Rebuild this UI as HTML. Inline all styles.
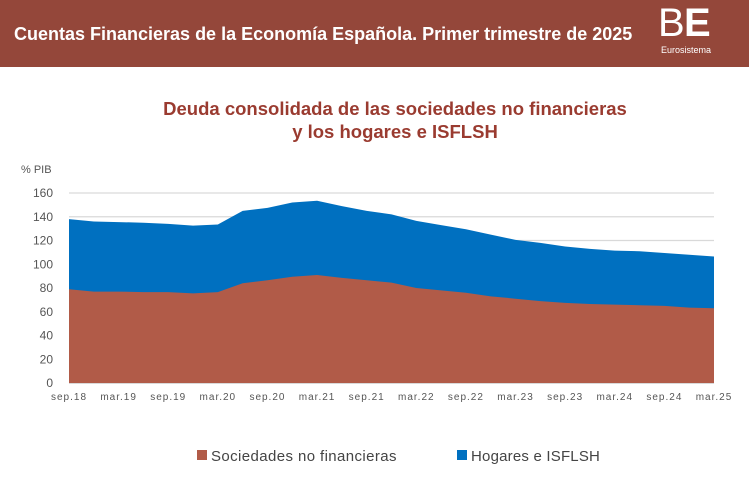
<!DOCTYPE html>
<html><head><meta charset="utf-8"><style>
body{margin:0;width:749px;height:499px;background:#fff;overflow:hidden;font-family:"Liberation Sans",sans-serif}
.hdr{position:absolute;left:0;top:0;width:749px;height:67px;background:#94473A}
</style></head><body>
<div class="hdr"></div>
<svg width="749" height="499" style="position:absolute;left:0;top:0" font-family="Liberation Sans, sans-serif">
<text x="14" y="40" fill="#fff" font-size="18" font-weight="bold">Cuentas Financieras de la Economía Española. Primer trimestre de 2025</text>
<text x="658" y="36" fill="#fff" font-size="40" letter-spacing="-4">B</text>
<text x="684" y="36" fill="#fff" font-size="40" font-weight="bold">E</text>
<text x="661" y="53" fill="#fff" font-size="9">Eurosistema</text>
<text x="395" y="115" fill="#9A3B30" font-size="18.5" font-weight="bold" text-anchor="middle">Deuda consolidada de las sociedades no financieras</text>
<text x="395" y="138" fill="#9A3B30" font-size="18.5" font-weight="bold" text-anchor="middle">y los hogares e ISFLSH</text>
<text x="21" y="173" fill="#555" font-size="11">% PIB</text>
<g id="grid" stroke="#d9d9d9" stroke-width="1.3"></g>
<polygon id="blue" fill="#0070C0"/>
<polygon id="red" fill="#B15B48"/>
<line x1="69" y1="383.5" x2="714" y2="383.5" stroke="#d9d9d9"/>
<g id="yl" fill="#555" font-size="12" text-anchor="end"></g>
<g id="xl" fill="#555" font-size="10" text-anchor="middle" letter-spacing="1"></g>
<rect x="197" y="450" width="10" height="10" fill="#B15B48"/>
<text x="211" y="461" fill="#444" font-size="15" letter-spacing="0.4">Sociedades no financieras</text>
<rect x="457" y="450" width="10" height="10" fill="#0070C0"/>
<text x="471" y="461" fill="#444" font-size="15" letter-spacing="0.2">Hogares e ISFLSH</text>
</svg>
<script>
var T=[138,136,135.5,135,134,132.5,133.5,145,147.5,152,153.5,149,145,142,136.5,133,129.5,125,120.5,118,115,113,111.5,111,109.5,108,106.5];
var S=[79,77,77,76.5,76.5,75.5,76.5,84,86.5,89.5,91,88.5,86.5,84.5,80,78,76,73,71,69,67.5,66.5,66,65.5,65,63.5,63];
function X(i){return 69+i*645/26}function Y(v){return 383-v*190/160}
function poly(a){var p=[];for(var i=0;i<a.length;i++)p.push(X(i)+","+Y(a[i]));p.push("714,383","69,383");return p.join(" ")}
document.getElementById("blue").setAttribute("points",poly(T));
document.getElementById("red").setAttribute("points",poly(S));
var g="",y="";for(var v=0;v<=160;v+=20){var yy=Y(v);if(v>0)g+='<line x1="69" x2="714" y1="'+yy+'" y2="'+yy+'"/>';y+='<text x="53" y="'+(yy+4)+'">'+v+'</text>'}
document.getElementById("grid").innerHTML=g;document.getElementById("yl").innerHTML=y;
var L=["sep.18","mar.19","sep.19","mar.20","sep.20","mar.21","sep.21","mar.22","sep.22","mar.23","sep.23","mar.24","sep.24","mar.25"],x="";
for(var i=0;i<L.length;i++)x+='<text x="'+X(i*2)+'" y="400">'+L[i]+'</text>';
document.getElementById("xl").innerHTML=x;
</script>
</body></html>
